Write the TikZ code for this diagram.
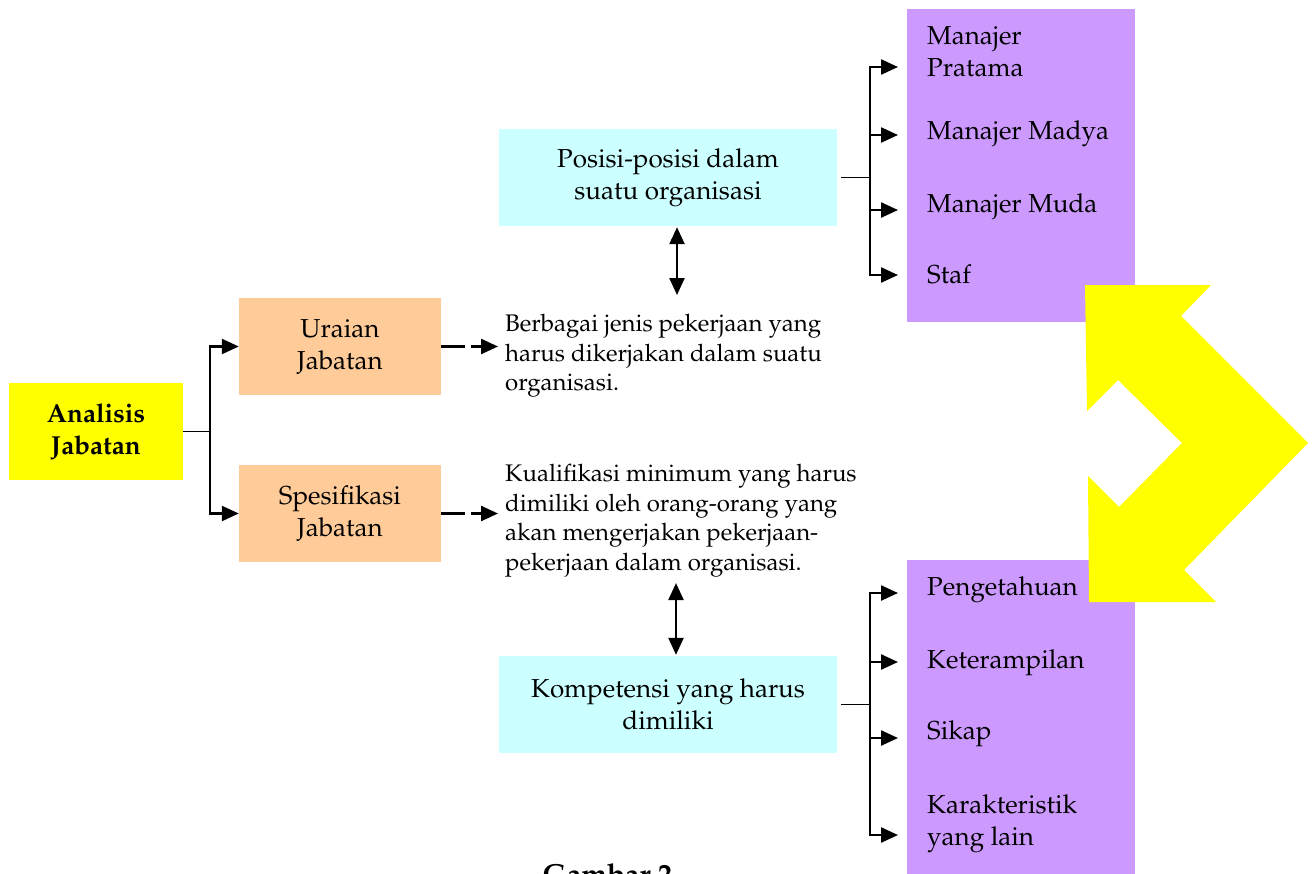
\documentclass[tikz,border=0pt]{standalone}
\usepackage[T1]{fontenc}
\usepackage{mathpazo}
\usetikzlibrary{arrows.meta}
\definecolor{cYellow}{HTML}{FFFF00}
\definecolor{cPeach}{HTML}{FFCC99}
\definecolor{cCyan}{HTML}{CCFFFF}
\definecolor{cPurple}{HTML}{CC99FF}
\tikzset{
  boxbase/.style={rectangle, inner sep=0pt, align=center, font=\fontsize{26}{32}\selectfont},
  yellowbox/.style={boxbase, fill=cYellow, minimum width=174pt, minimum height=97pt, font=\fontsize{26}{32}\selectfont\bfseries},
  peachbox/.style={boxbase, fill=cPeach, minimum width=202pt, minimum height=97pt},
  cyanbox/.style={boxbase, fill=cCyan, minimum width=338pt, minimum height=97pt},
  purplepanel/.style={rectangle, inner sep=0pt, fill=cPurple, minimum width=228pt},
  itemtext/.style={inner sep=0pt, align=left, font=\fontsize{26}{32}\selectfont},
  desctext/.style={inner sep=0pt, align=left, font=\fontsize{24}{29.5}\selectfont},
  conn/.style={line width=2.4pt, black},
  thinconn/.style={line width=1.6pt, black},
  arrowline/.style={-{Triangle[length=17pt,width=15pt]}},
  dblarrow/.style={{Triangle[length=17pt,width=15pt]}-{Triangle[length=17pt,width=15pt]}},
  dashline/.style={dash pattern=on 24pt off 6pt},
}
\begin{document}
\begin{tikzpicture}[x=1pt,y=-1pt]
\useasboundingbox (0,0) rectangle (1316,873);
\clip (0,0) rectangle (1316,873);

% left part
\node[yellowbox] (ana) at (96,431.5) {Analisis\\Jabatan};
\node[peachbox] (ura) at (340,346.5) {Uraian\\Jabatan};
\node[peachbox] (spe) at (340,513.5) {Spesifikasi\\Jabatan};
\coordinate (jl) at (210,431.5);
\draw[thinconn] (ana.east) -- (jl);
\draw[conn, arrowline] (jl) |- (ura.west);
\draw[conn, arrowline] (jl) |- (spe.west);

% descriptions
\node[desctext, anchor=north west] (ber) at (505,314) {Berbagai jenis pekerjaan yang\\harus dikerjakan dalam suatu\\organisasi.};
\node[desctext, anchor=north west] (kua) at (505,464) {Kualifikasi minimum yang harus\\dimiliki oleh orang-orang yang\\akan mengerjakan pekerjaan-\\pekerjaan dalam organisasi.};
\draw[conn, dashline, arrowline, shorten >=7pt] (ura.east) -- (ura.east -| ber.west);
\draw[conn, dashline, arrowline, shorten >=7pt] (spe.east) -- (spe.east -| kua.west);

% cyan boxes
\node[cyanbox] (pos) at (668,177.5) {Posisi-posisi dalam\\suatu organisasi};
\node[cyanbox] (kom) at (668,704.5) {Kompetensi yang harus\\dimiliki};
\draw[conn, dblarrow, shorten <=1pt, shorten >=19pt] ([xshift=9pt]pos.south) -- ([xshift=9pt]pos.south |- ber.north);
\draw[conn, dblarrow, shorten <=1pt, shorten >=6pt] ([xshift=8pt]kom.north) -- ([xshift=8pt]kom.north |- kua.south);

% purple panels
\node[purplepanel, minimum height=313pt] (ptop) at (1021,165.5) {};
\node[purplepanel, minimum height=330pt] (pbot) at (1021,725) {};

\node[itemtext, anchor=north west] (m1) at (927,26) {Manajer\\Pratama};
\node[itemtext, anchor=base west] (m2) at (927,139) {Manajer Madya};
\node[itemtext, anchor=base west] (m3) at (927,212) {Manajer Muda};
\node[itemtext, anchor=base west] (m4) at (927,283) {Staf};

\node[itemtext, anchor=base west] (k1) at (927,595) {Pengetahuan};
\node[itemtext, anchor=base west] (k2) at (927,668) {Keterampilan};
\node[itemtext, anchor=base west] (k3) at (927,739) {Sikap};
\node[itemtext, anchor=north west] (k4) at (927,794) {Karakteristik\\yang lain};

% right brackets (top)
\coordinate (jt) at (870,177.5);
\coordinate (t1) at (898,67);
\coordinate (t2) at (898,135);
\coordinate (t3) at (898,210);
\coordinate (t4) at (898,275);
\draw[thinconn, shorten <=4pt] (pos.east) -- (jt);
\draw[conn, arrowline] (jt) |- (t1);
\draw[conn, arrowline] (jt) |- (t2);
\draw[conn, arrowline] (jt) |- (t3);
\draw[conn, arrowline] (jt) |- (t4);

% right brackets (bottom)
\coordinate (jb) at (870,704.5);
\coordinate (b1) at (898,593);
\coordinate (b2) at (898,662);
\coordinate (b3) at (898,738);
\coordinate (b4) at (898,835);
\draw[thinconn, shorten <=4pt] (kom.east) -- (jb);
\draw[conn, arrowline] (jb) |- (b1);
\draw[conn, arrowline] (jb) |- (b2);
\draw[conn, arrowline] (jb) |- (b3);
\draw[conn, arrowline] (jb) |- (b4);

% big yellow arrow
\fill[cYellow] (1085,285) -- (1211,285) -- (1181,316) -- (1308,443) -- (1184,570)
  -- (1216,602) -- (1089,602) -- (1088,476) -- (1119,507) -- (1182,443)
  -- (1118,380) -- (1087,411) -- cycle;

% caption (cut off at the bottom, as in the reference)
\node[font=\fontsize{29}{34}\selectfont\bfseries, anchor=base, inner sep=0pt] (cap) at (607.5,884) {Gambar 2};
\end{tikzpicture}
\end{document}
